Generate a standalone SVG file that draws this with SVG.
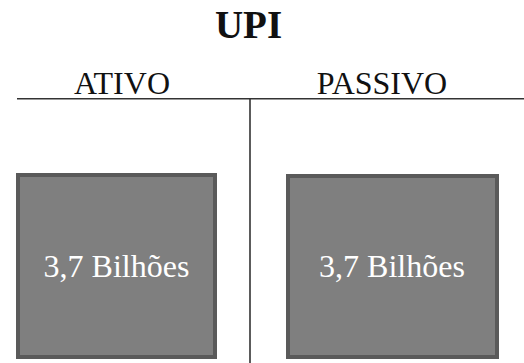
<svg xmlns="http://www.w3.org/2000/svg" width="524" height="363" viewBox="0 0 524 363">
<style>
.t{fill:#111;text-anchor:middle;font-family:"Liberation Serif","Times New Roman",serif}
.box{fill:#7f7f7f;stroke:#5a5a5a;stroke-width:4}
.lbl{fill:#fff;text-anchor:middle;font-family:"Liberation Serif","Times New Roman",serif;font-size:32px}
.ln{stroke:#333;stroke-width:1.6;fill:none}
</style>
<rect width="524" height="363" fill="#fff"/>
<text class="t" x="248.5" y="38" font-size="39" font-weight="bold">UPI</text>
<text class="t" x="122" y="94" font-size="32">ATIVO</text>
<text class="t" x="382" y="94" font-size="32">PASSIVO</text>
<g id="connectors">
<line class="ln" x1="17" y1="98.7" x2="524" y2="98.7"/>
<line class="ln" x1="250" y1="98.7" x2="250" y2="363"/>
</g>
<g id="ativo">
<rect class="box" x="18" y="175" width="197" height="182"/>
<text class="lbl" x="116.5" y="277">3,7 Bilhões</text>
</g>
<g id="passivo">
<rect class="box" x="288" y="176" width="209" height="181"/>
<text class="lbl" x="392" y="277">3,7 Bilhões</text>
</g>
</svg>
